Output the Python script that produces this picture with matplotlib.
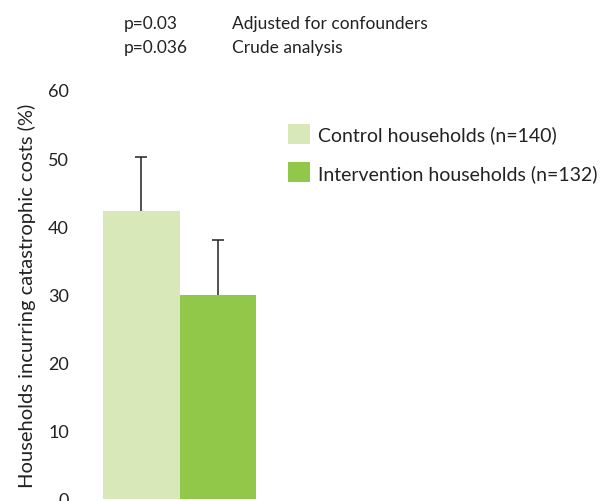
import matplotlib
matplotlib.use("Agg")
import matplotlib.pyplot as plt
from matplotlib.patches import Patch

# data
groups = ["Control households (n=140)", "Intervention households (n=132)"]
values = [42.2, 30.0]
upper_err = [7.9, 8.0]
colors = ["#d9e8b9", "#92c84a"]
p_values = ["p=0.03", "p=0.036"]
p_notes = ["Adjusted for confounders", "Crude analysis"]
yticks = [0, 10, 20, 30, 40, 50, 60]

plt.rcParams["font.family"] = ["Lato", "DejaVu Sans"]
plt.rcParams["font.size"] = 13
txt_color = "#222222"

W, H = 613, 502
fig = plt.figure(figsize=(W / 100, H / 100), dpi=100)

# axes placed in pixels: y=0 at 500px, y=60 at 91px
ax = fig.add_axes([80 / W, 2 / H, (290 - 80) / W, (500 - 91) / H])

x = [0, 1]
ax.bar(x, values, width=1.0, color=colors, edgecolor="none", zorder=2)
# upper error only, no cap at the bar top
_, caps, _ = ax.errorbar(x, values, yerr=[[0, 0], upper_err], fmt="none",
                         ecolor=txt_color, elinewidth=1.1, capsize=4.5,
                         capthick=1.1, zorder=1)
caps[0].set_visible(False)

ax.set_xlim(-0.8, 1.94)
ax.set_ylim(0, 60)
ax.set_yticks(yticks)
ax.set_xticks([])
ax.tick_params(axis="y", length=0, pad=8, labelcolor=txt_color, labelsize=13)
for s in ax.spines.values():
    s.set_visible(False)
ax.set_ylabel("Households incurring catastrophic costs (%)", color=txt_color,
              fontsize=14.5, labelpad=9)

handles = [Patch(facecolor=c, edgecolor="none") for c in colors]
fig.legend(handles, groups, loc="upper left", bbox_to_anchor=(288 / W, 1 - 125 / H),
           frameon=False, fontsize=14, borderpad=0, borderaxespad=0,
           handlelength=1.13, handleheight=1.2, handletextpad=0.4,
           labelspacing=0.95, labelcolor=txt_color)

for i, (p, note) in enumerate(zip(p_values, p_notes)):
    yy = 1 - (24 + 24 * i) / H
    fig.text(124 / W, yy, p, va="center", ha="left", color=txt_color, fontsize=12.5)
    fig.text(232 / W, yy, note, va="center", ha="left", color=txt_color, fontsize=12.5)

fig.savefig("out.png", dpi=100)
